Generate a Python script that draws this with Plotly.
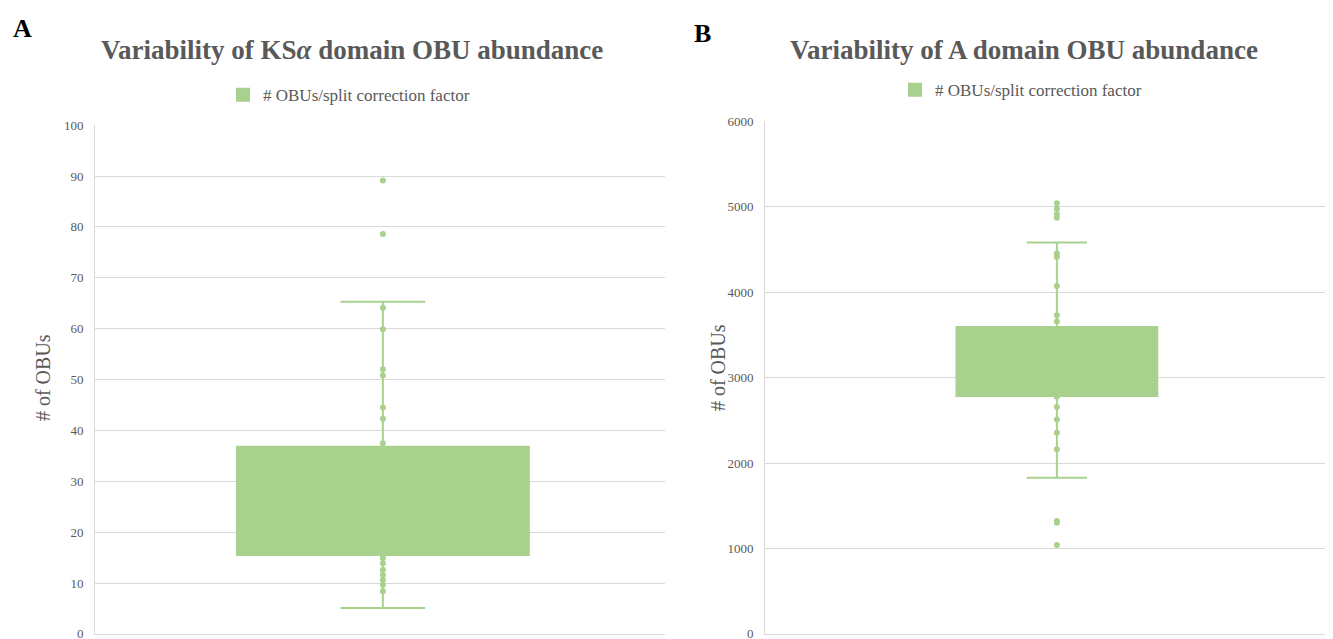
import plotly.graph_objects as go

# ---------------- data ----------------
series_name = "# OBUs/split correction factor"
category = [0]

# Panel A: KSα domain
a_q1 = 15.5
a_median = 25.0
a_q3 = 36.8
a_low = 5.1
a_high = 65.3
a_points = [89.1, 78.6, 64.1, 59.9, 52.0, 50.8, 44.5, 42.3, 37.5,
            14.9, 13.9, 12.6, 11.6, 10.6, 9.6, 8.4]

# Panel B: A domain
b_q1 = 2784
b_median = 3200
b_q3 = 3591
b_low = 1828
b_high = 4581
b_points = [5040, 4975, 4915, 4870, 4450, 4410, 4070, 3730, 3655,
            2775, 2655, 2510, 2355, 2160, 1320, 1300, 1040]

a_ticks = list(range(0, 101, 10))
b_ticks = list(range(0, 6001, 1000))

GREEN = "#A9D18E"
GRID = "#D9D9D9"
TXT = "#595959"
SERIF = "Liberation Serif, Times New Roman, serif"

fig = go.Figure()

fig.add_trace(go.Box(
    x=category, q1=[a_q1], median=[a_median], q3=[a_q3],
    lowerfence=[a_low], upperfence=[a_high],
    width=0.507, whiskerwidth=0.29,
    fillcolor=GREEN, line=dict(color=GREEN, width=2),
    boxpoints=False, name=series_name, showlegend=True,
    legend="legend", xaxis="x", yaxis="y"))
fig.add_trace(go.Scatter(
    x=[0] * len(a_points), y=a_points, mode="markers",
    marker=dict(color=GREEN, size=6), showlegend=False,
    xaxis="x", yaxis="y"))

fig.add_trace(go.Box(
    x=category, q1=[b_q1], median=[b_median], q3=[b_q3],
    lowerfence=[b_low], upperfence=[b_high],
    width=0.344, whiskerwidth=0.30,
    fillcolor=GREEN, line=dict(color=GREEN, width=2),
    boxpoints=False, name=series_name, showlegend=True,
    legend="legend2", xaxis="x2", yaxis="y2"))
fig.add_trace(go.Scatter(
    x=[0] * len(b_points), y=b_points, mode="markers",
    marker=dict(color=GREEN, size=6), showlegend=False,
    xaxis="x2", yaxis="y2"))

# mapping from target screen pixels to paper coordinates
OX = 8
SY, OY = 0.977, 14.8
W, H = 1325, 640

def px(xp):
    return (xp - OX) / W

def py(yp):
    fy = (yp - OY) / SY
    return 1 - fy / H

axis_common = dict(gridcolor=GRID, gridwidth=1, showline=True, linecolor=GRID,
                   linewidth=1, zeroline=False, ticks="", ticklabeloverflow="allow",
                   tickfont=dict(family=SERIF, size=13, color=TXT))

fig.update_layout(
    width=W, height=H, margin=dict(l=0, r=0, t=0, b=0),
    paper_bgcolor="white", plot_bgcolor="white",
    xaxis=dict(domain=[px(95), px(665)], range=[-0.5, 0.49], showticklabels=False,
               showgrid=False, showline=True, linecolor=GRID, zeroline=False, ticks=""),
    yaxis=dict(domain=[py(634), py(125)], range=[0, 100], tickvals=a_ticks,
               ticklabelstandoff=8, **axis_common),
    xaxis2=dict(domain=[px(765), 1.0], range=[-0.5, 0.473], showticklabels=False,
                showgrid=False, showline=True, linecolor=GRID, zeroline=False, ticks="",
                anchor="y2"),
    yaxis2=dict(domain=[py(634), py(121)], range=[0, 6000], tickvals=b_ticks,
                anchor="x2", ticklabelstandoff=8, **axis_common),
    legend=dict(x=px(349), xanchor="center", y=py(95), yanchor="middle",
                orientation="h", font=dict(family=SERIF, size=17, color=TXT),
                bgcolor="rgba(0,0,0,0)", itemwidth=30),
    legend2=dict(x=px(1021), xanchor="center", y=py(90), yanchor="middle",
                 orientation="h", font=dict(family=SERIF, size=17, color=TXT),
                 bgcolor="rgba(0,0,0,0)", itemwidth=30),
)

ann = [
    dict(text="<b>A</b>", x=px(23), y=py(28), font=dict(family=SERIF, size=26, color="black")),
    dict(text="<b>B</b>", x=px(702), y=py(33), font=dict(family=SERIF, size=26, color="black")),
    dict(text="<b>Variability of KS<i>α</i> domain OBU abundance</b>", x=px(352), y=py(50),
         font=dict(family=SERIF, size=27, color=TXT)),
    dict(text="<b>Variability of A domain OBU abundance</b>", x=px(1024), y=py(50),
         font=dict(family=SERIF, size=27, color=TXT)),
    dict(text="# of OBUs", x=px(43), y=py(378), textangle=-90,
         font=dict(family=SERIF, size=20, color=TXT)),
    dict(text="# of OBUs", x=px(718), y=py(368), textangle=-90,
         font=dict(family=SERIF, size=20, color=TXT)),
]
for a in ann:
    a.update(xref="paper", yref="paper", showarrow=False, xanchor="center", yanchor="middle")
fig.update_layout(annotations=ann)

fig.write_html("out.html")
